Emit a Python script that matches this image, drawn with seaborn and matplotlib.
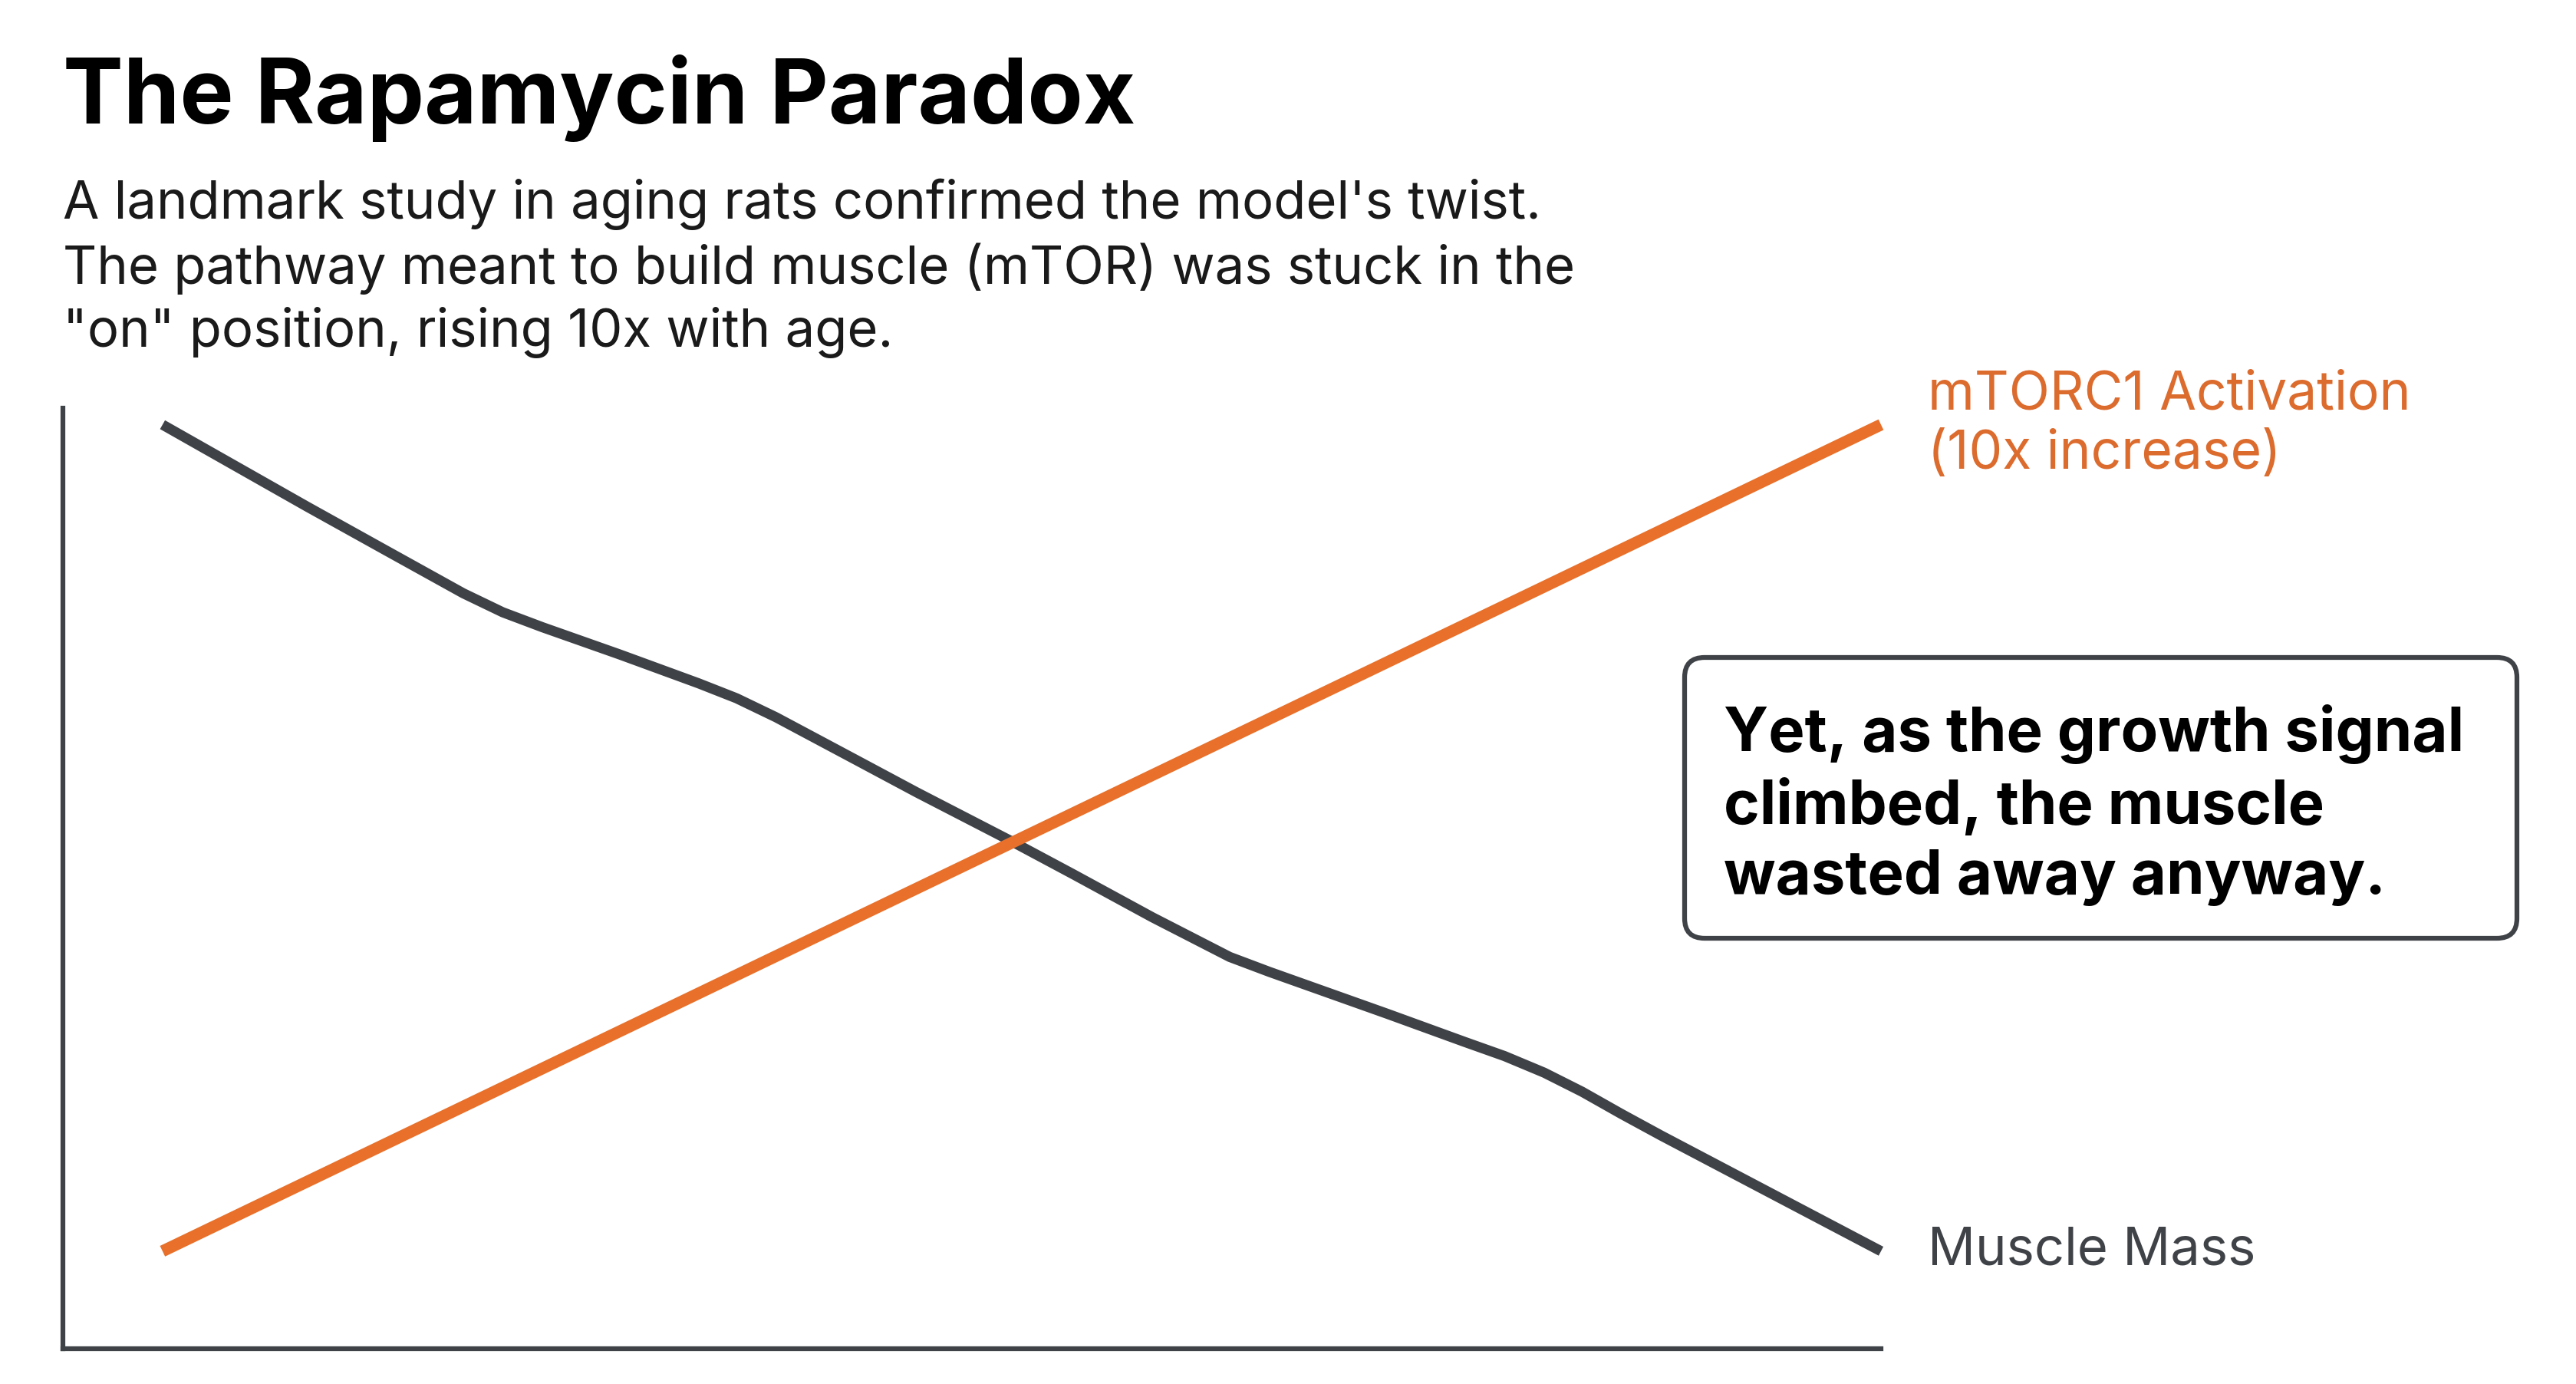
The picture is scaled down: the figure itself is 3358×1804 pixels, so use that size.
import matplotlib
matplotlib.use("Agg")
import matplotlib.pyplot as plt
import matplotlib.transforms as mtransforms
from matplotlib.patches import FancyBboxPatch
import seaborn as sns
import pandas as pd

# relative age (arbitrary units) and normalised levels
age_muscle = [0, 0.84, 1.29, 1.75, 1.98, 2.21, 2.66, 3.12, 3.34, 3.57, 4.03, 4.39,
              4.94, 5.30, 5.76, 6.21, 6.44, 6.67, 7.13, 7.58, 7.81, 8.04, 8.26,
              8.49, 8.72, 10]
muscle_mass = [100, 90.1, 84.9, 79.6, 77.3, 75.5, 72.2, 68.7, 66.9, 64.6, 59.5, 55.5,
               49.6, 45.6, 40.4, 35.6, 33.8, 32.1, 28.7, 25.3, 23.6, 21.6, 19.3,
               16.6, 14.0, 0]
age_mtor = [0, 10]
mtor_activation = [0, 100]

title = "The Rapamycin Paradox"
subtitle = ("A landmark study in aging rats confirmed the model's twist.\n"
            "The pathway meant to build muscle (mTOR) was stuck in the\n"
            "\"on\" position, rising 10x with age.")
callout = "Yet, as the growth signal\nclimbed, the muscle\nwasted away anyway."

ORANGE = "#E8702A"
ORANGE_TEXT = "#DC6B2E"
GREY = "#3F4247"

df = pd.concat([
    pd.DataFrame({"age": age_muscle, "level": muscle_mass, "series": "Muscle Mass"}),
    pd.DataFrame({"age": age_mtor, "level": mtor_activation, "series": "mTORC1"}),
])

sns.set_theme(style="white")
plt.rcParams["font.family"] = ["Inter", "DejaVu Sans"]

fig = plt.figure(figsize=(33.58, 18.04), dpi=100)
ax = fig.add_axes([0.0244, 0.0255, 0.7058, 0.6796])

sns.lineplot(data=df, x="age", y="level", hue="series",
             palette={"Muscle Mass": GREY, "mTORC1": ORANGE},
             linewidth=10, legend=False, ax=ax, clip_on=False)
for ln in ax.lines:
    ln.set_solid_capstyle("butt")
    ln.set_solid_joinstyle("round")
    if matplotlib.colors.to_hex(ln.get_color()).lower() == ORANGE.lower():
        ln.set_linewidth(11)
    else:
        ln.set_linewidth(9.5)

ax.set_xlim(-0.58, 10)
ax.set_ylim(-11.8, 102)
ax.set_xticks([])
ax.set_yticks([])
ax.set_xlabel("")
ax.set_ylabel("")
sns.despine(ax=ax)
for side in ["left", "bottom"]:
    ax.spines[side].set_color(GREY)
    ax.spines[side].set_linewidth(4.5)

# end labels
ax.annotate("mTORC1 Activation\n(10x increase)", xy=(age_mtor[-1], mtor_activation[-1]),
            xytext=(44, 0), textcoords="offset points", va="center", ha="left",
            fontsize=50, color=ORANGE_TEXT, linespacing=1.25, annotation_clip=False)
ax.annotate("Muscle Mass", xy=(age_muscle[-1], muscle_mass[-1]),
            xytext=(44, 0), textcoords="offset points", va="center", ha="left",
            fontsize=49.5, color=GREY, annotation_clip=False)

# title block
fig.text(0.0244, 0.9108, title, fontsize=85, fontweight="bold", color="black",
         va="baseline", ha="left")
fig.text(0.0244, 0.7494, subtitle, fontsize=49.5, color="#1A1A1A",
         va="baseline", ha="left", linespacing=1.31)

# callout box (pixel coordinates)
ident = mtransforms.IdentityTransform()
box = FancyBboxPatch((2196, 581), 1085, 366,
                     boxstyle="round,pad=0,rounding_size=26",
                     transform=ident, facecolor="white", edgecolor=GREY,
                     linewidth=4.5)
fig.patches.append(box)
fig.text(2247, 639, callout, transform=ident, fontsize=57.3, fontweight="bold",
         color="black", va="baseline", ha="left", linespacing=1.30)

fig.savefig("out.png", dpi=100)
